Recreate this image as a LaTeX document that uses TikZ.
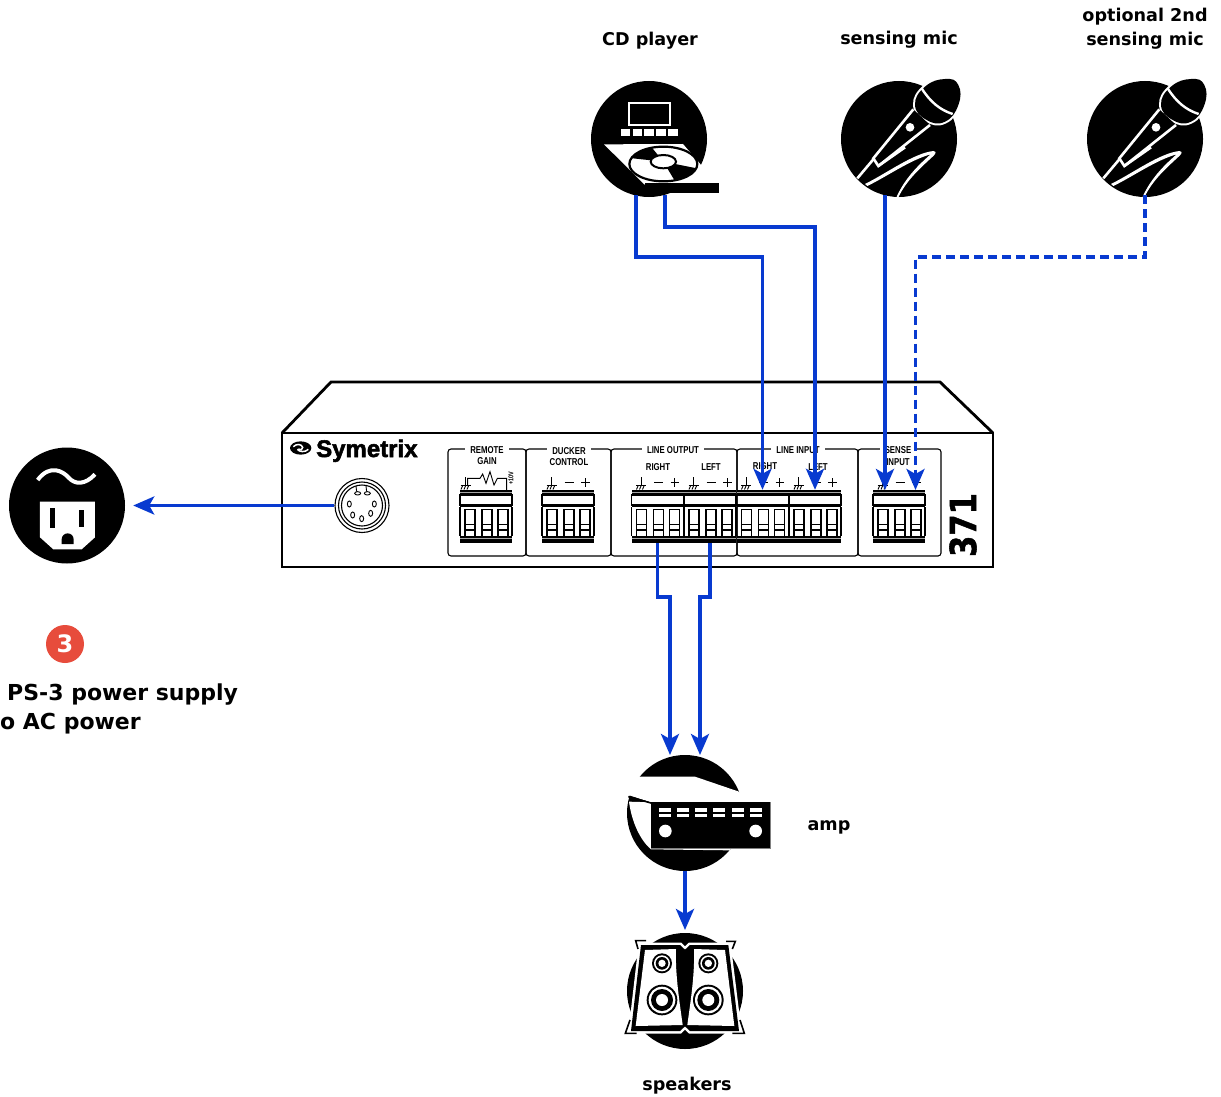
\documentclass[tikz,border=0pt]{standalone}
\usepackage{fontspec}
\usepackage{graphicx}
\setmainfont{DejaVu Sans}
\newfontfamily\panelfont{Liberation Sans}
\newfontfamily\logofont[BoldFeatures={FakeBold=2.2}]{Liberation Sans}
\newfontfamily\modelfont[BoldFeatures={FakeBold=1.5}]{DejaVu Sans}
\usetikzlibrary{arrows.meta,calc}
\definecolor{wireblue}{RGB}{8,58,208}
\definecolor{badgered}{RGB}{231,76,60}
\tikzset{
  icon/.style={circle,fill=black,inner sep=0pt,minimum size=116pt},
  lab/.style={font=\bfseries\fontsize{17.6}{24}\selectfont,inner sep=0pt,align=center},
  biglab/.style={font=\bfseries\fontsize{22}{26}\selectfont,inner sep=0pt,anchor=base west},
  wire/.style={draw=wireblue,line width=3.5pt,-{Stealth[length=21pt,width=18pt,inset=5pt]}},
  dashwire/.style={wire,dash pattern=on 9pt off 5pt},
  section/.style={draw=black,line width=1.1pt,rounded corners=3pt},
  ptitle/.style={font=\panelfont\bfseries\fontsize{10}{11}\selectfont,inner sep=0pt},
  ptitlegap/.style={ptitle,fill=white,inner xsep=5pt,inner ysep=1pt},
  blockbox/.style={inner sep=0pt,minimum width=52pt,minimum height=53pt},
  zoomed/.style={x=1pt/3,y=-1pt/3},
}
\newcommand{\pt}[1]{\scalebox{.78}[1]{#1}}
% terminal block, top-left at px (#1,490)
\newcommand{\tblock}[1]{%
  \begin{scope}[shift={(#1,490)},line width=1.2pt]
    \fill[black] (0,0) rectangle (52,5);
    \fill[gray!70] (0,2) rectangle (52,3);
    \draw (0,5) rectangle (52,15);
    \fill[black] (0,15) rectangle (52,17);
    \draw[line width=1.5pt] (0,17) -- (0,46) (52,17) -- (52,46);
    \fill[black] (0,46) rectangle (52,53);
    \fill[gray!70] (0,48.2) rectangle (52,49.4);
    \foreach \cx in {5,22,38}{
      \draw[line width=1.9pt] (\cx,19.5) rectangle ++(10,27);
      \draw[line width=1.2pt] (\cx,34.5) -- ++(10,0) (\cx,40) -- ++(10,0);
    }
  \end{scope}}
% ground symbol over a block at px x=#1
\newcommand{\tgnd}[1]{%
  \begin{scope}[shift={(#1,490)},line width=.9pt]
    \draw (9.5,-13) -- (9.5,-4.3) (4.5,-4.3) -- (14.5,-4.3);
    \draw (6.5,-4) -- (5,-.5) (9.5,-4) -- (8,-.5) (12.5,-4) -- (11,-.5);
  \end{scope}}
\newcommand{\tsym}[1]{%
  \tgnd{#1}
  \begin{scope}[shift={(#1,490)},line width=1.1pt]
    \draw (22.5,-7.3) -- (31.5,-7.3);
    \draw (39,-7.3) -- (47.6,-7.3) (43.3,-11.7) -- (43.3,-2.7);
  \end{scope}}
\newcommand{\drawmic}[1]{%
  \begin{scope}[shift={(#1,70)},zoomed]
    \draw[draw=white,line width=4pt] plot[smooth cycle,tension=.8] coordinates {(255,105) (285,50) (345,27) (385,45) (385,105) (345,155) (290,150)};
    \fill[black] plot[smooth cycle,tension=.8] coordinates {(255,105) (285,50) (345,27) (385,45) (385,105) (345,155) (290,150)};
    \draw[white,line width=2.4pt] (275,55) .. controls (300,95) and (330,120) .. (368,132);
    \draw[white,line width=2.6pt,fill=black] (250,118) -- (130,265) -- (145,288) -- (300,165);
    \fill[white] (240,172) circle[radius=13];
    \draw[white,line width=2.6pt] (130,268) -- (82,325);
    \draw[white,line width=2.6pt] (145,288) -- (225,232);
    \fill[white] (105,342) .. controls (170,310) and (250,250) .. (310,243) .. controls (320,245) and (318,250) .. (310,258) .. controls (270,295) and (230,330) .. (205,382) -- (200,380) .. controls (225,325) and (265,285) .. (302,253) .. controls (240,270) and (170,320) .. (112,348) -- cycle;
  \end{scope}}
\begin{document}
\begin{tikzpicture}[x=1pt,y=-1pt]
\useasboundingbox (0,0) rectangle (1221,1097);
\fill[white] (0,0) rectangle (1221,1097);

% ---------- device chassis
\draw[line width=2.8pt,line join=miter] (282,433) -- (331,382) -- (940,382) -- (993,433);
\draw[line width=2.8pt] (282,433) rectangle (993,567);

% logo
\begin{scope}[shift={(280,430)},zoomed]
  \fill[black] (62,54) ellipse[x radius=32,y radius=20];
  \draw[white,line width=1.5pt] (40,50) .. controls (50,40) and (65,42) .. (68,52) .. controls (70,60) and (60,62) .. (55,57);
  \draw[white,line width=1.5pt] (85,58) .. controls (75,68) and (58,66) .. (52,58);
\end{scope}
\node[inner sep=0pt,anchor=base west,font=\logofont\bfseries\fontsize{24}{26}\selectfont] (logo) at (316,457) {Symetrix};

% DIN connector
\node[circle,draw=black,line width=1.1pt,inner sep=0pt,minimum size=54pt] (din) at (362,505.5) {};
\draw[line width=1.1pt] (362,505.5) circle[radius=23.5] (362,505.5) circle[radius=20.5];
\begin{scope}[shift={(280,430)},zoomed,line width=.9pt]
  \foreach \p/\a in {208/222,283/222,218/255,272/250,245/266}{
    \draw (\p,\a) ellipse[x radius=6,y radius=9];
  }
  \draw (233,190) ellipse[x radius=9,y radius=5];
  \draw (262,190) ellipse[x radius=9,y radius=5];
  \draw (230,185) -- (228,168) (260,185) -- (258,168);
\end{scope}

% ---------- panel sections
\draw[section] (448,449) rectangle (526,556);
\draw[section] (526,449) rectangle (611,556);
\draw[section] (611,449) rectangle (737,556);
\draw[section] (737,449) rectangle (858,556);
\draw[section] (858,449) rectangle (941,556);

\node[ptitlegap] (tRemote) at (487,450) {\pt{REMOTE}};
\node[ptitle] (tGain) at (487,461) {\pt{GAIN}};
\node[ptitlegap] (tDucker) at (569,451) {\pt{DUCKER}};
\node[ptitle] (tControl) at (569,462) {\pt{CONTROL}};
\node[ptitlegap] (tLineOut) at (673,450.5) {\pt{LINE OUTPUT}};
\node[ptitle] (tOutR) at (658,467) {\pt{RIGHT}};
\node[ptitle] (tOutL) at (711,467) {\pt{LEFT}};
\node[ptitlegap] (tLineIn) at (798,450.5) {\pt{LINE INPUT}};
\node[ptitle] (tInR) at (765,466) {\pt{RIGHT}};
\node[ptitle] (tInL) at (818,467) {\pt{LEFT}};
\node[ptitlegap] (tSense) at (898,450) {\pt{SENSE}};
\node[ptitle] (tInput) at (898,462) {\pt{INPUT}};

% ---------- terminal blocks
\node[blockbox] (remote) at (486,516.5) {};
\node[blockbox] (ducker) at (568,516.5) {};
\node[blockbox] (lineOutR) at (657.5,516.5) {};
\node[blockbox] (lineOutL) at (710,516.5) {};
\node[blockbox] (lineInR) at (762.5,516.5) {};
\node[blockbox] (lineInL) at (815,516.5) {};
\node[blockbox] (sense) at (899,516.5) {};
\tblock{460}\tblock{542}\tblock{631.5}\tblock{684}\tblock{736.5}\tblock{789}\tblock{873}
\tgnd{456}
\tsym{542}\tsym{631.5}\tsym{684}\tsym{736.5}\tsym{789}\tsym{873}
\begin{scope}[shift={(280,430)},zoomed,line width=.9pt]
  \draw (563,168) -- (563,145) -- (600,145) -- (608,132) -- (618,160) -- (630,125) -- (642,165) -- (652,145) -- (680,145) -- (680,180);
\end{scope}
\node[ptitle,rotate=90,font=\panelfont\bfseries\fontsize{7}{8}\selectfont] (tenv) at (511,478) {\pt{+10V}};

% model number
\node[rotate=90,inner sep=0pt,font=\modelfont\bfseries\fontsize{36}{38}\selectfont] (model) at (963,525) {\scalebox{.85}[1]{371}};

% ---------- source icons
\node[icon] (cd) at (649,139) {};
\node[icon] (mic) at (899,139) {};
\node[icon] (micB) at (1145,139) {};
\node[icon] (plug) at (67,505.5) {};
\node[icon] (amp) at (685,813) {};
\node[icon] (spk) at (685,991) {};

% CD player
\begin{scope}[shift={(580,70)},zoomed]
  \draw[white,line width=1.7pt] (147,98) rectangle (271,165);
  \foreach \b in {122,158,193,229,265}{\fill[white] (\b,178) rectangle ++(29,19);}
  \fill[white] (72,223) -- (309,222) -- (415,345) -- (195,345) -- cycle;
  \fill[black] (195,340) rectangle (418,368);
  \begin{scope}
    \clip (250,282) ellipse[x radius=102,y radius=52];
    \fill[black] (250,275) -- (140,263) -- (205,220) -- cycle;
    \fill[black] (250,275) -- (360,297) -- (295,350) -- cycle;
  \end{scope}
  \draw[black,line width=2.2pt] (250,282) ellipse[x radius=102,y radius=52];
  \draw[black,line width=2pt,fill=white] (250,275) ellipse[x radius=38,y radius=20];
\end{scope}

% microphones
\drawmic{830}
\drawmic{1076}

% outlet
\begin{scope}[shift={(0,440)},zoomed]
  \draw[white,line width=4pt] (113,120) .. controls (150,70) and (190,95) .. (205,112) .. controls (225,135) and (255,135) .. (285,103);
  \fill[white] (120,185) -- (285,185) -- (285,292) -- (245,328) -- (160,328) -- (120,292) -- cycle;
  \fill[black] (150,205) rectangle (165,263);
  \fill[black] (238,210) rectangle (252,262);
  \fill[black] (185,312) -- (185,298) arc[start angle=180,end angle=360,radius=18] -- (221,312) -- cycle;
\end{scope}

% amp
\begin{scope}[shift={(615,745)},zoomed]
  \fill[white] (20,95) -- (240,95) -- (372,140) -- (400,172) -- (108,172) -- (40,150) -- (20,150) -- cycle;
  \fill[white] (42,170) .. controls (50,230) and (75,285) .. (108,313) -- (345,316) -- (345,311) -- (108,300) -- (108,172) -- cycle;
  \draw[black,line width=1.6pt] (40,155) -- (108,174);
  \fill[black] (108,172) rectangle (466,309);
  \draw[gray,line width=.5pt] (108,309) -- (466,309) -- (466,172);
  \foreach \s in {132,186,240,295,350,404}{
    \fill[white] (\s,190) rectangle ++(36,10);
    \fill[white] (\s,207) rectangle ++(36,10);
  }
  \fill[white] (151,258) circle[radius=19];
  \fill[white] (422,258) circle[radius=19];
\end{scope}

% speakers
\begin{scope}[shift={(615,925)},zoomed]
  \draw[white,line width=5pt,line join=miter] (78,60) -- (195,60) -- (210,74) -- (225,60) -- (340,60) -- (372,318) -- (225,318) -- (210,304) -- (195,318) -- (48,318) -- cycle;
  \fill[black] (78,60) -- (195,60) -- (210,74) -- (225,60) -- (340,60) -- (372,318) -- (225,318) -- (210,304) -- (195,318) -- (48,318) -- cycle;
  \draw[black,line width=1.6pt] (93,47) -- (62,47) -- (69,72);
  \draw[black,line width=1.6pt] (333,49) -- (361,49) -- (352,72);
  \draw[black,line width=1.6pt] (45,285) -- (31,325) -- (65,325);
  \draw[black,line width=1.6pt] (375,285) -- (388,325) -- (352,325);
  \fill[white] (90,75) -- (183,72) .. controls (180,150) and (195,240) .. (203,300) -- (62,303) -- cycle;
  \fill[white] (330,75) -- (237,72) .. controls (240,150) and (225,240) .. (217,300) -- (358,303) -- cycle;
  \foreach \cx in {141,280}{
    \fill[black] (\cx,115) circle[radius=30];
    \fill[white] (\cx,115) circle[radius=24];
    \fill[black] (\cx,115) circle[radius=19];
    \fill[white] (\cx,115) circle[radius=11];
    \fill[black] (\cx,225) circle[radius=46];
    \fill[white] (\cx,225) circle[radius=40];
    \fill[black] (\cx,225) circle[radius=33];
    \fill[white] (\cx,225) circle[radius=18];
  }
\end{scope}

% ---------- text labels
\node[lab,anchor=base] (lCd) at (650,46) {CD player};
\node[lab,anchor=base] (lMic) at (899,45) {sensing mic};
\node[lab,anchor=base] (lMicB) at (1145,46) {optional 2nd\\sensing mic};
\node[lab,anchor=base] (lAmp) at (829,830) {amp};
\node[lab,anchor=base] (lSpk) at (687,1090) {speakers};
\node[circle,fill=badgered,text=white,inner sep=0pt,minimum size=38pt,font=\bfseries\fontsize{24}{26}\selectfont] (badge) at (65,644) {3};
\node[biglab] (lPs) at (7,700) {PS-3 power supply};
\node[biglab] (lAc) at (0,729) {o AC power};

% ---------- connectors
\coordinate (cdOutA) at (636,195);
\coordinate (cdOutB) at (665,195);
\coordinate (micOut) at (885,195);
\coordinate (micBOut) at (1145,195);
\coordinate (senseA) at (885,490);
\coordinate (senseB) at (915.5,490);
\coordinate (ampInA) at (670,755);
\coordinate (ampInB) at (700,755);
\coordinate (spkIn) at (685,930);

\draw[wire] (cdOutA) -- ++(0,62) -| (lineInR.north);
\draw[wire] (cdOutB) -- ++(0,32) -| (lineInL.north);
\draw[wire] (micOut) -- (senseA);
\draw[dashwire] (micBOut) -- ++(0,62) -| (senseB);
\draw[wire,shorten >=8pt] (din.west) -- (plug.east);
\draw[wire] (lineOutR.south) -- ++(0,54) -| (ampInA);
\draw[wire] (lineOutL.south) -- ++(0,54) -| (ampInB);
\draw[wire] (amp.south) -- (spkIn);
\end{tikzpicture}
\end{document}
